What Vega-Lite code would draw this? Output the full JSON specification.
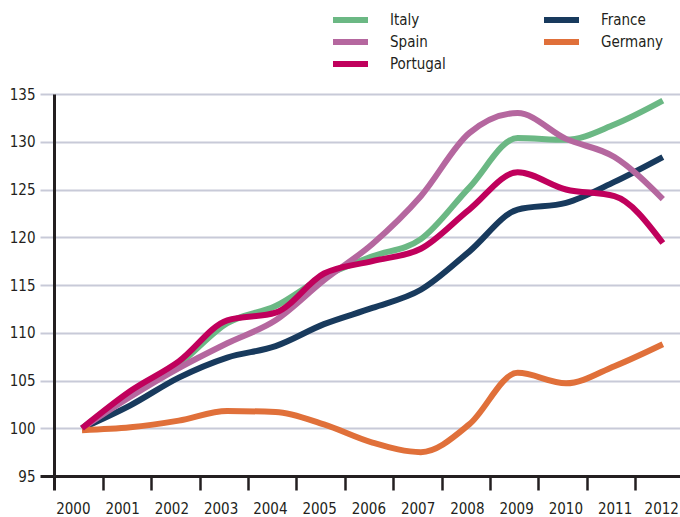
{
  "$schema": "https://vega.github.io/schema/vega-lite/v6.json",
  "width": 626,
  "height": 382,
  "autosize": {"type": "none"},
  "padding": {"left": 54, "top": 94, "right": 0, "bottom": 41},
  "background": "white",
  "config": {"view": {"stroke": null}, "font": "DejaVu Sans Condensed, Liberation Sans, sans-serif"},
  "data": {"values": [
    {"country": "Italy", "year": 2000, "value": 100},
    {"country": "Italy", "year": 2001, "value": 103.6},
    {"country": "Italy", "year": 2002, "value": 106.7},
    {"country": "Italy", "year": 2003, "value": 111.0},
    {"country": "Italy", "year": 2004, "value": 112.8},
    {"country": "Italy", "year": 2005, "value": 115.9},
    {"country": "Italy", "year": 2006, "value": 118.0},
    {"country": "Italy", "year": 2007, "value": 119.8},
    {"country": "Italy", "year": 2008, "value": 125.2},
    {"country": "Italy", "year": 2009, "value": 130.4},
    {"country": "Italy", "year": 2010, "value": 130.2},
    {"country": "Italy", "year": 2011, "value": 131.8},
    {"country": "Italy", "year": 2012, "value": 134.3},
    {"country": "France", "year": 2000, "value": 100},
    {"country": "France", "year": 2001, "value": 102.4},
    {"country": "France", "year": 2002, "value": 105.3},
    {"country": "France", "year": 2003, "value": 107.4},
    {"country": "France", "year": 2004, "value": 108.6},
    {"country": "France", "year": 2005, "value": 110.9},
    {"country": "France", "year": 2006, "value": 112.6},
    {"country": "France", "year": 2007, "value": 114.5},
    {"country": "France", "year": 2008, "value": 118.5},
    {"country": "France", "year": 2009, "value": 122.9},
    {"country": "France", "year": 2010, "value": 123.6},
    {"country": "France", "year": 2011, "value": 125.8},
    {"country": "France", "year": 2012, "value": 128.4},
    {"country": "Spain", "year": 2000, "value": 100},
    {"country": "Spain", "year": 2001, "value": 103.3},
    {"country": "Spain", "year": 2002, "value": 106.3},
    {"country": "Spain", "year": 2003, "value": 108.9},
    {"country": "Spain", "year": 2004, "value": 111.3},
    {"country": "Spain", "year": 2005, "value": 115.5},
    {"country": "Spain", "year": 2006, "value": 119.3},
    {"country": "Spain", "year": 2007, "value": 124.3},
    {"country": "Spain", "year": 2008, "value": 130.9},
    {"country": "Spain", "year": 2009, "value": 133.0},
    {"country": "Spain", "year": 2010, "value": 130.3},
    {"country": "Spain", "year": 2011, "value": 128.4},
    {"country": "Spain", "year": 2012, "value": 124.0},
    {"country": "Germany", "year": 2000, "value": 99.8},
    {"country": "Germany", "year": 2001, "value": 100.1},
    {"country": "Germany", "year": 2002, "value": 100.8},
    {"country": "Germany", "year": 2003, "value": 101.8},
    {"country": "Germany", "year": 2004, "value": 101.7},
    {"country": "Germany", "year": 2005, "value": 100.4},
    {"country": "Germany", "year": 2006, "value": 98.5},
    {"country": "Germany", "year": 2007, "value": 97.5},
    {"country": "Germany", "year": 2008, "value": 100.4},
    {"country": "Germany", "year": 2009, "value": 105.8},
    {"country": "Germany", "year": 2010, "value": 104.7},
    {"country": "Germany", "year": 2011, "value": 106.5},
    {"country": "Germany", "year": 2012, "value": 108.8},
    {"country": "Portugal", "year": 2000, "value": 100},
    {"country": "Portugal", "year": 2001, "value": 103.9},
    {"country": "Portugal", "year": 2002, "value": 107.0},
    {"country": "Portugal", "year": 2003, "value": 111.3},
    {"country": "Portugal", "year": 2004, "value": 112.1},
    {"country": "Portugal", "year": 2005, "value": 116.2},
    {"country": "Portugal", "year": 2006, "value": 117.5},
    {"country": "Portugal", "year": 2007, "value": 118.8},
    {"country": "Portugal", "year": 2008, "value": 122.9},
    {"country": "Portugal", "year": 2009, "value": 126.8},
    {"country": "Portugal", "year": 2010, "value": 125.0},
    {"country": "Portugal", "year": 2011, "value": 124.3},
    {"country": "Portugal", "year": 2012, "value": 119.4}
  ]},
  "mark": {"type": "line", "strokeWidth": 6, "interpolate": "monotone", "strokeCap": "butt", "clip": false},
  "encoding": {
    "x": {
      "field": "year", "type": "quantitative",
      "scale": {"domain": [1999.4215, 2012.355], "nice": false, "zero": false},
      "axis": {
        "title": null,
        "values": [1999.43, 2000.43, 2001.43, 2002.43, 2003.43, 2004.43, 2005.43, 2006.43, 2007.43, 2008.43, 2009.43, 2010.43, 2011.43],
        "labelExpr": "format(floor(datum.value) + 1, 'd')",
        "labelOffset": {"expr": "datum.value > 2011 ? 26 : 18.4 + 0.85 * (datum.value - 1999.43)"},
        "labelFontSize": 15,
        "labelColor": "#231f20",
        "labelPadding": 11,
        "labelFlush": false,
        "labelOverlap": false,
        "labelBound": false,
        "domainColor": "#231f20",
        "domainWidth": 3,
        "tickColor": "#231f20",
        "tickWidth": {"condition": {"test": "datum.value < 2000", "value": 3}, "value": 2.5},
        "tickSize": 14,
        "grid": false
      }
    },
    "y": {
      "field": "value", "type": "quantitative",
      "scale": {"domain": [95, 135], "nice": false, "zero": false},
      "axis": {
        "title": null,
        "values": [95, 100, 105, 110, 115, 120, 125, 130, 135],
        "labelFontSize": 15,
        "labelColor": "#231f20",
        "labelPadding": 5,
        "domainColor": "#231f20",
        "domainWidth": 3,
        "tickColor": {"condition": {"test": "datum.value == 95", "value": "#231f20"}, "value": "#c8cad8"},
        "tickWidth": {"condition": {"test": "datum.value == 95", "value": 3}, "value": 2},
        "tickSize": 14,
        "grid": true,
        "gridColor": "#c8cad8",
        "gridWidth": 2
      }
    },
    "color": {
      "field": "country", "type": "nominal",
      "scale": {
        "domain": ["Italy", "Spain", "Portugal", "France", "Germany"],
        "range": ["#6bb884", "#b5679f", "#c0005c", "#183a5d", "#e0703a"]
      },
      "legend": {
        "title": null,
        "orient": "none",
        "legendX": 279,
        "legendY": -85,
        "columns": 2,
        "direction": "vertical",
        "symbolType": "M-3,0H3",
        "symbolSize": 256,
        "symbolStrokeWidth": 6,
        "labelFontSize": 15,
        "labelColor": "#231f20",
        "labelOffset": 35,
        "rowPadding": 0,
        "clipHeight": 22,
        "columnPadding": 98
      }
    }
  }
}
